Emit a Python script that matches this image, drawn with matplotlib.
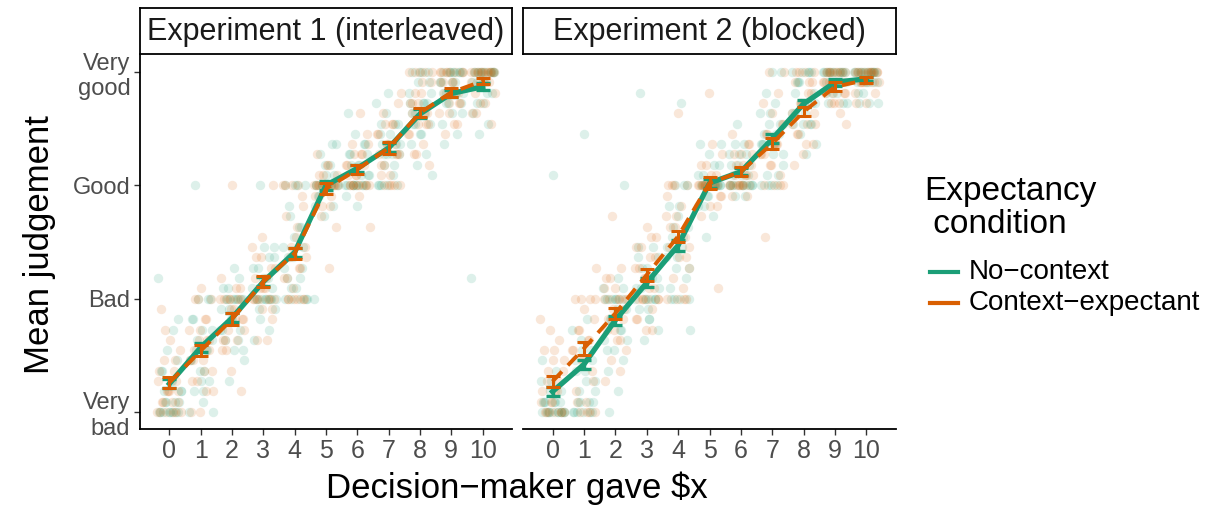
import matplotlib.pyplot as plt
from matplotlib.lines import Line2D
import numpy as np

plt.rcParams['font.family'] = ['Liberation Sans', 'DejaVu Sans']

GREEN = '#1B9E77'
ORANGE = '#D95F02'

gave = list(range(11))
judgement_ticks = [1, 2, 3, 4]
judgement_labels = ['Very\nbad', 'Bad', 'Good', 'Very\ngood']
panel_titles = ['Experiment 1 (interleaved)', 'Experiment 2 (blocked)']
condition_labels = ['No\u2212context', 'Context\u2212expectant']

# condition means and standard errors (1 = very bad ... 4 = very good)
exp1_mean_nocontext = [1.25, 1.57, 1.83, 2.15, 2.41, 3.00, 3.15, 3.33, 3.63, 3.81, 3.87]
exp1_mean_context = [1.26, 1.54, 1.82, 2.15, 2.40, 2.97, 3.14, 3.33, 3.64, 3.82, 3.92]
exp1_se_nocontext = [0.04, 0.04, 0.04, 0.04, 0.04, 0.04, 0.03, 0.04, 0.04, 0.03, 0.03]
exp1_se_context = [0.05, 0.05, 0.05, 0.05, 0.05, 0.05, 0.04, 0.05, 0.04, 0.04, 0.03]

exp2_mean_nocontext = [1.18, 1.42, 1.81, 2.14, 2.47, 3.02, 3.12, 3.41, 3.72, 3.91, 3.94]
exp2_mean_context = [1.27, 1.56, 1.87, 2.21, 2.55, 3.02, 3.12, 3.37, 3.65, 3.87, 3.93]
exp2_se_nocontext = [0.04, 0.04, 0.04, 0.04, 0.05, 0.04, 0.03, 0.04, 0.03, 0.03, 0.02]
exp2_se_context = [0.05, 0.06, 0.05, 0.05, 0.05, 0.05, 0.04, 0.05, 0.04, 0.04, 0.03]

# individual responses, in steps of 1/11 above "Very bad" (0 .. 33)
exp1_resp_nocontext = [
    [0, 0, 0, 0, 0, 1, 1, 2, 3, 4, 5, 6, 13, 8, 2, 1, 0, 0, 0, 1, 2, 3, 4, 9],
    [0, 1, 2, 3, 4, 5, 6, 6, 7, 8, 9, 11, 11, 0, 4, 22, 11, 3, 5, 6, 7, 8, 2, 9],
    [3, 5, 6, 7, 8, 9, 10, 11, 11, 11, 11, 12, 13, 10, 8, 11, 11, 11, 9, 8, 7, 12, 6, 14],
    [8, 9, 10, 11, 11, 11, 11, 12, 13, 14, 15, 16, 7, 11, 22, 11, 11, 11, 12, 13, 14, 15, 10, 16],
    [11, 11, 11, 11, 12, 13, 14, 15, 16, 18, 20, 22, 22, 22, 18, 12, 11, 22, 15, 16, 17, 14, 13, 19],
    [22, 22, 22, 22, 22, 22, 21, 20, 19, 11, 24, 25, 26, 23, 22, 26, 22, 22, 22, 21, 23, 24, 20, 22],
    [22, 22, 22, 22, 22, 23, 24, 25, 26, 27, 22, 23, 24, 25, 20, 29, 22, 22, 23, 24, 25, 26, 22, 21],
    [22, 22, 22, 22, 23, 24, 25, 26, 27, 28, 29, 30, 25, 26, 28, 31, 22, 24, 25, 26, 27, 28, 26, 25],
    [33, 33, 33, 32, 31, 30, 29, 28, 27, 26, 25, 24, 23, 30, 28, 32, 33, 30, 29, 28, 31, 27, 29, 30],
    [33, 33, 33, 33, 33, 32, 32, 31, 30, 29, 28, 27, 30, 31, 33, 26, 33, 33, 32, 31, 30, 29, 32, 31],
    [33, 33, 33, 33, 33, 33, 13, 32, 32, 31, 30, 29, 28, 27, 33, 33, 33, 33, 33, 32, 31, 30, 33, 32],
]
exp1_resp_context = [
    [0, 0, 0, 0, 1, 1, 2, 2, 3, 4, 5, 6, 7, 10, 3, 2, 0, 0, 1, 1, 2, 4, 5, 8],
    [0, 0, 2, 3, 4, 5, 5, 6, 7, 8, 9, 11, 11, 12, 3, 7, 11, 2, 4, 6, 7, 8, 5, 9],
    [2, 4, 6, 7, 8, 9, 10, 11, 11, 11, 11, 12, 6, 9, 22, 7, 11, 11, 8, 9, 7, 12, 10, 13],
    [7, 9, 10, 11, 11, 11, 11, 12, 13, 14, 15, 16, 7, 11, 22, 12, 11, 11, 12, 14, 13, 15, 10, 17],
    [11, 11, 11, 12, 13, 14, 15, 16, 17, 19, 21, 22, 22, 22, 11, 11, 11, 22, 14, 16, 15, 18, 13, 20],
    [22, 22, 22, 22, 22, 21, 20, 19, 18, 24, 25, 22, 23, 22, 14, 23, 22, 22, 22, 21, 20, 23, 24, 22],
    [22, 22, 22, 22, 22, 23, 24, 25, 26, 27, 22, 23, 24, 25, 18, 29, 22, 22, 23, 24, 25, 22, 26, 21],
    [22, 22, 22, 23, 24, 25, 26, 27, 28, 29, 30, 22, 25, 26, 28, 31, 22, 23, 25, 26, 27, 28, 24, 25],
    [33, 33, 33, 32, 31, 30, 29, 28, 27, 26, 25, 24, 33, 30, 28, 25, 33, 32, 29, 28, 30, 27, 29, 31],
    [33, 33, 33, 33, 33, 32, 32, 31, 30, 29, 28, 27, 30, 31, 33, 28, 33, 33, 32, 31, 30, 29, 32, 31],
    [33, 33, 33, 33, 33, 33, 33, 33, 32, 32, 31, 30, 29, 28, 33, 29, 33, 33, 33, 32, 31, 33, 30, 32],
]
exp2_resp_nocontext = [
    [0, 0, 0, 0, 0, 0, 1, 1, 1, 2, 3, 4, 0, 0, 23, 1, 0, 0, 0, 1, 1, 2, 3, 5],
    [0, 0, 0, 0, 1, 2, 3, 4, 5, 6, 7, 8, 9, 1, 1, 27, 0, 0, 1, 2, 3, 4, 5, 6],
    [2, 4, 5, 6, 7, 8, 9, 10, 11, 11, 11, 11, 12, 13, 0, 22, 11, 11, 8, 9, 7, 10, 6, 12],
    [8, 9, 10, 11, 11, 11, 11, 12, 13, 14, 15, 16, 7, 12, 9, 31, 11, 11, 12, 13, 14, 15, 10, 16],
    [11, 11, 11, 12, 13, 14, 15, 16, 17, 18, 19, 20, 22, 22, 8, 30, 11, 22, 15, 16, 17, 18, 14, 20],
    [22, 22, 22, 22, 22, 22, 21, 20, 19, 23, 24, 25, 26, 22, 17, 26, 22, 22, 22, 21, 23, 24, 20, 22],
    [22, 22, 22, 22, 22, 22, 23, 24, 25, 26, 21, 22, 23, 24, 25, 28, 22, 22, 23, 24, 25, 22, 21, 26],
    [22, 22, 22, 23, 24, 25, 26, 27, 28, 29, 30, 31, 33, 33, 26, 23, 22, 25, 26, 27, 28, 29, 26, 27],
    [33, 33, 33, 33, 32, 31, 30, 29, 28, 27, 26, 25, 32, 30, 28, 28, 33, 32, 30, 29, 31, 28, 30, 29],
    [33, 33, 33, 33, 33, 33, 33, 32, 32, 32, 31, 30, 31, 30, 30, 33, 33, 33, 33, 32, 32, 31, 33, 32],
    [33, 33, 33, 33, 33, 33, 33, 33, 32, 32, 32, 31, 30, 30, 30, 33, 33, 33, 33, 33, 32, 32, 31, 33],
]
exp2_resp_context = [
    [0, 0, 0, 0, 0, 1, 1, 2, 3, 4, 5, 6, 7, 8, 9, 2, 0, 0, 1, 2, 3, 4, 5, 6],
    [0, 0, 0, 1, 2, 4, 5, 6, 7, 8, 9, 10, 11, 11, 11, 14, 0, 1, 3, 5, 6, 7, 8, 11],
    [3, 4, 5, 6, 7, 8, 9, 10, 11, 11, 11, 11, 12, 13, 14, 19, 11, 11, 9, 10, 8, 12, 7, 13],
    [8, 9, 10, 11, 11, 11, 11, 12, 13, 14, 15, 16, 17, 18, 9, 8, 11, 11, 12, 14, 15, 13, 16, 17],
    [11, 11, 11, 12, 13, 14, 15, 16, 17, 18, 19, 20, 22, 22, 29, 22, 11, 22, 16, 17, 18, 15, 19, 21],
    [22, 22, 22, 22, 22, 22, 21, 20, 19, 23, 24, 25, 26, 22, 12, 31, 22, 22, 22, 21, 23, 24, 20, 22],
    [22, 22, 22, 22, 22, 23, 23, 24, 25, 27, 21, 22, 23, 24, 25, 26, 22, 22, 23, 24, 25, 22, 21, 26],
    [22, 22, 22, 23, 24, 25, 26, 27, 28, 29, 30, 31, 33, 33, 26, 17, 22, 24, 25, 26, 27, 28, 26, 25],
    [33, 33, 33, 32, 31, 30, 29, 28, 27, 26, 25, 24, 32, 30, 28, 26, 33, 32, 30, 28, 31, 27, 29, 30],
    [33, 33, 33, 33, 33, 33, 33, 32, 32, 32, 31, 30, 31, 29, 30, 28, 33, 33, 32, 31, 32, 30, 33, 31],
    [33, 33, 33, 33, 33, 33, 33, 33, 32, 32, 32, 31, 30, 30, 33, 32, 33, 33, 33, 32, 32, 31, 33, 32],
]

experiments = [
    (exp1_resp_nocontext, exp1_resp_context, exp1_mean_nocontext, exp1_mean_context,
     exp1_se_nocontext, exp1_se_context),
    (exp2_resp_nocontext, exp2_resp_context, exp2_mean_nocontext, exp2_mean_context,
     exp2_se_nocontext, exp2_se_context),
]


def spread(n, shift):
    # low-discrepancy horizontal spread within +/- 0.4 of the x position
    return np.array([((i + 1) * 0.618034 + shift) % 1.0 - 0.5 for i in range(n)]) * 0.8


W, H = 1211, 514
fig = plt.figure(figsize=(W / 100, H / 100), dpi=100)

panel_px = [(140, 512), (523, 896)]
top_px, bottom_px = 55, 429

for p, (resp_nc, resp_c, m_nc, m_c, se_nc, se_c) in enumerate(experiments):
    x0, x1 = panel_px[p]
    ax = fig.add_axes([x0 / W, (H - bottom_px) / H, (x1 - x0) / W, (bottom_px - top_px) / H])

    # raw responses behind the means
    for c, (resp, col) in enumerate([(resp_nc, GREEN), (resp_c, ORANGE)]):
        for xi, levels in zip(gave, resp):
            vals = 1 + np.array(levels) / 11
            xs = xi + spread(len(vals), 0.37 * xi + 0.5 * c + 0.23 * p)
            ax.scatter(xs, vals, s=46, color=col, alpha=0.15, linewidths=0, zorder=1)

    ax.errorbar(gave, m_nc, yerr=se_nc, color=GREEN, lw=3.8, elinewidth=2.4,
                capsize=5, capthick=2.4, zorder=3)
    ax.errorbar(gave, m_c, yerr=se_c, color=ORANGE, lw=2.8, elinewidth=2.2,
                capsize=5, capthick=2.2, zorder=4, dashes=(3.5, 2.2))

    ax.set_xlim(-0.94, 10.94)
    ax.set_ylim(0.85, 4.15)
    ax.set_xticks(gave)
    ax.set_xticklabels([str(g) for g in gave])
    ax.set_yticks(judgement_ticks)
    for side in ['top', 'right']:
        ax.spines[side].set_visible(False)
    ax.spines['bottom'].set_linewidth(1.3)
    ax.spines['left'].set_linewidth(1.3)
    ax.tick_params(axis='both', colors='#333333', labelcolor='#4D4D4D',
                   length=4, width=1, pad=3)
    ax.tick_params(axis='x', labelsize=18)
    ax.tick_params(axis='y', labelsize=17)
    if p == 0:
        ax.set_yticklabels(judgement_labels)
    else:
        ax.spines['left'].set_visible(False)
        ax.tick_params(axis='y', left=False, labelleft=False)

    # facet strip
    sax = fig.add_axes([x0 / W, (H - 54) / H, (x1 - x0) / W, 46 / H])
    sax.set_xticks([])
    sax.set_yticks([])
    for s in sax.spines.values():
        s.set_linewidth(1.3)
        s.set_color('black')
    sax.text(0.5, 0.47, panel_titles[p], ha='center', va='center', fontsize=22,
             color='#1A1A1A', transform=sax.transAxes)

fig.text(517 / W, 1 - 488 / H, 'Decision\u2212maker gave $x', ha='center', va='center',
         fontsize=25, parse_math=False)
fig.text(40 / W, 1 - 245 / H, 'Mean judgement', ha='center', va='center',
         fontsize=25, rotation=90)

# legend
fig.text(924 / W, 1 - 208 / H, 'Expectancy\n condition', ha='left', va='center',
         fontsize=24, linespacing=1.1)
for yk, col, lab in [(272, GREEN, condition_labels[0]), (303, ORANGE, condition_labels[1])]:
    fig.add_artist(Line2D([930 / W, 958 / W], [1 - yk / H, 1 - yk / H], color=col, lw=3,
                          transform=fig.transFigure))
    fig.text(969 / W, 1 - yk / H, lab, ha='left', va='center', fontsize=20)

fig.savefig('out.png', dpi=100)
